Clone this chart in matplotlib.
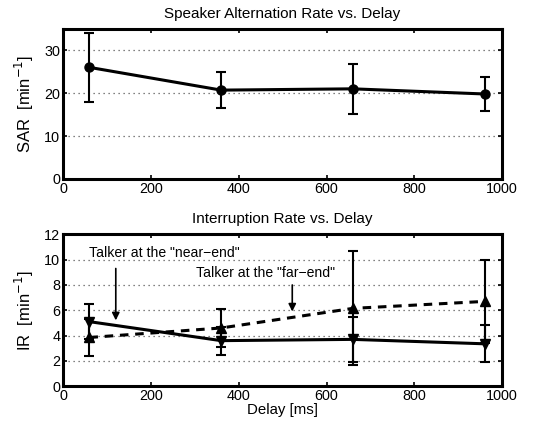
import matplotlib
matplotlib.use("Agg")
import matplotlib.pyplot as plt

plt.rcParams['font.family'] = ['Liberation Sans', 'DejaVu Sans']
plt.rcParams['font.size'] = 10

delay = [60, 360, 660, 960]

sar = [26.0, 20.7, 21.0, 19.8]
sar_err = [8.0, 4.2, 5.8, 4.0]

ir_near = [5.1, 3.6, 3.7, 3.35]
ir_near_err = [1.4, 1.1, 1.8, 1.45]
ir_far = [3.85, 4.6, 6.15, 6.7]
ir_far_err = [1.45, 1.5, 4.5, 3.3]

xticks = [0, 200, 400, 600, 800, 1000]


def style_axes(ax, yticks, ylim):
    ax.set_xlim(0, 1000)
    ax.set_ylim(*ylim)
    ax.set_xticks(xticks)
    ax.set_yticks(yticks)
    ax.tick_params(direction='in', top=True, right=True, length=3, width=1.2,
                   labelsize=10.4, pad=2)
    for s in ax.spines.values():
        s.set_linewidth(2.2)
    ax.yaxis.grid(True, linestyle=(0, (1, 3)), color='0.35', linewidth=0.9)
    ax.set_axisbelow(True)


fig = plt.figure(figsize=(5.44, 4.23), dpi=100)
ax1 = fig.add_axes([0.116, 0.577, 0.807, 0.355])
ax2 = fig.add_axes([0.116, 0.087, 0.807, 0.359])

ax1.errorbar(delay, sar, yerr=sar_err, color='k', lw=2.2, marker='o', ms=6.5,
             elinewidth=1.5, capsize=3.5, capthick=1.5)
style_axes(ax1, [0, 10, 20, 30], (0, 35))
ax1.set_title('Speaker Alternation Rate vs. Delay', fontsize=11, pad=8)
ax1.set_ylabel('SAR  [min$^{-1}$]', fontsize=12, labelpad=6)

ax2.errorbar(delay, ir_near, yerr=ir_near_err, color='k', lw=2.2, marker='v',
             ms=7, elinewidth=1.5, capsize=3.5, capthick=1.5)
ax2.errorbar(delay, ir_far, yerr=ir_far_err, color='k', lw=2.2, ls='--',
             dashes=(2.8, 2.2), marker='^', ms=7, elinewidth=1.5, capsize=3.5,
             capthick=1.5)
style_axes(ax2, [0, 2, 4, 6, 8, 10, 12], (0, 12))
ax2.set_title('Interruption Rate vs. Delay', fontsize=11, pad=8)
ax2.set_ylabel('IR  [min$^{-1}$]', fontsize=12, labelpad=6)
ax2.set_xlabel('Delay [ms]', fontsize=10.8, labelpad=0)

arrow = dict(arrowstyle='-|>', color='k', lw=1.2, mutation_scale=11,
             shrinkA=0, shrinkB=0)
ax2.annotate('', xy=(120, 5.2), xytext=(120, 9.3), arrowprops=arrow)
ax2.text(230, 10.55, 'Talker at the "near\u2212end"', ha='center',
         va='center', fontsize=10.1)
ax2.annotate('', xy=(522, 5.9), xytext=(522, 8.0), arrowprops=arrow)
ax2.text(460, 8.95, 'Talker at the "far\u2212end"', ha='center',
         va='center', fontsize=10.1)

fig.savefig('out.png', dpi=100)
